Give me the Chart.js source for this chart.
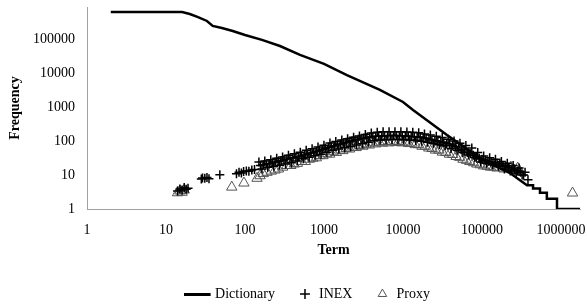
<!DOCTYPE html>
<html>
<head>
<meta charset="utf-8">
<script src="https://cdn.jsdelivr.net/npm/chart.js@4"></script>
<style>
  html, body { margin: 0; padding: 0; background: #fff; }
  #wrap { width: 587px; height: 306px; position: relative; }
</style>
</head>
<body>
<div id="wrap"><canvas id="chart"></canvas></div>
<script>
// Dictionary curve (term rank vs frequency)
const dictTerms = [2, 16, 20, 25, 33, 39, 51, 70, 100, 164, 277, 497, 1000, 1950, 5100,
  10000, 13400, 36000, 77000, 100000, 226000, 371000, 443000, 443000, 542000, 542000,
  662000, 662000, 890000, 890000, 1740000];
const dictFreq = [620000, 620000, 543000, 444000, 338000, 242000, 210000, 172000, 131000,
  94000, 62000, 34000, 18400, 8700, 3200, 1400, 820, 150, 44, 29, 11.4, 5, 5, 4, 4, 3,
  3, 2, 2, 1, 1];

// INEX points [term, frequency]
const inexPoints = [
  [14, 3.4], [15, 3.9], [16, 3.6], [17, 4.3], [18, 3.8], [19, 4.1],
  [28, 7.6], [29, 8.2], [31, 8.0], [33, 8.4], [35, 7.8], [48, 10.2],
  [78, 10.8], [84, 12], [90, 11.5], [96, 12.6], [104, 13.2], [112, 12.8], [122, 14], [132, 14.5],
  [150, 24], [164, 15], [178, 26], [194, 17], [212, 28], [231, 18], [252, 31], [274, 19.5],
  [299, 34], [326, 21], [355, 38], [387, 23], [422, 42], [460, 26], [501, 47], [546, 30],
  [595, 53], [649, 33], [707, 59], [771, 37], [840, 66], [916, 41], [998, 75], [1090, 47],
  [1190, 87], [1300, 53], [1410, 96], [1540, 58], [1680, 106], [1830, 63], [1990, 117],
  [2170, 69], [2370, 128], [2580, 76], [2810, 141], [3070, 83], [3340, 155], [3640, 92],
  [3970, 173], [4330, 102], [4720, 180], [5140, 107], [5600, 186], [6110, 109], [6660, 188],
  [7260, 110], [7910, 188], [8620, 110], [9400, 186], [10200, 108], [11200, 183], [12200, 106],
  [13300, 180], [14500, 104], [15800, 174], [17200, 98], [18700, 160], [20400, 92], [22200, 150],
  [24200, 86], [26400, 138], [28800, 79], [31400, 127], [34200, 72], [37300, 112], [40600, 60],
  [44300, 100], [48300, 53], [52600, 86], [57400, 46], [62500, 74], [68100, 39], [74300, 62],
  [81000, 33], [88300, 46], [96200, 24], [105000, 36], [114000, 22], [125000, 32], [136000, 20],
  [148000, 29], [161000, 18], [176000, 25], [192000, 15], [209000, 22], [228000, 13],
  [248000, 19], [271000, 11.5], [295000, 16], [322000, 10], [351000, 12], [382000, 7.2],
  // middle of the band
  [157, 19], [171, 20], [186, 21], [203, 21.5], [221, 22.5], [241, 24], [263, 25], [286, 26.5],
  [312, 28], [340, 29.5], [371, 31], [404, 32], [441, 34], [480, 35], [523, 37], [570, 39],
  [622, 42], [678, 44.5], [739, 47], [805, 50], [878, 53], [957, 57], [1040, 61], [1140, 65],
  [1240, 69], [1350, 73], [1480, 77], [1610, 81], [1750, 86], [1910, 91], [2080, 96], [2270, 101],
  [2470, 106], [2700, 112], [2940, 117], [3200, 122], [3490, 126], [3800, 131], [4150, 134],
  [4520, 137], [4930, 139], [5370, 141], [5850, 142], [6380, 143], [6960, 144], [7580, 144],
  [8260, 144], [9000, 143], [9810, 142], [10700, 140], [11700, 138], [12700, 136], [13900, 134],
  [15100, 132], [16500, 130], [18000, 124], [19600, 118], [21300, 112], [23200, 107], [25300, 101],
  [27600, 96], [30100, 93], [32800, 89], [35700, 85], [38900, 82], [42400, 75], [46300, 68],
  [50400, 62], [55000, 56], [59900, 51], [65300, 46], [71200, 42], [77600, 38], [84600, 34],
  [92200, 31], [100000, 29], [110000, 27], [119000, 25.5], [130000, 24], [142000, 23],
  [155000, 22], [168000, 21], [184000, 19], [200000, 18], [218000, 16.5], [238000, 15],
  [259000, 14], [283000, 13], [308000, 12], [336000, 10]
];

// Proxy points [term, frequency]
const proxyPoints = [
  [14, 3.0], [15, 3.4], [16, 3.1], [17, 3.6], [68, 4.4], [97, 5.8], [142, 8], [155, 9.5],
  [170, 11], [190, 12], [215, 13], [240, 14], [265, 15], [300, 17], [340, 19], [380, 19],
  [420, 21], [460, 22], [520, 25], [580, 25], [650, 29], [720, 31], [800, 32], [880, 37],
  [970, 37], [1070, 42], [1180, 41], [1300, 48], [1430, 46], [1570, 54], [1730, 52], [1900, 60],
  [2100, 58], [2300, 66], [2550, 64], [2800, 74], [3100, 70], [3400, 80], [3750, 76], [4100, 88],
  [4500, 82], [5000, 92], [5500, 86], [6000, 96], [6600, 88], [7300, 98], [8000, 90], [8800, 96],
  [9700, 88], [10700, 92], [11800, 84], [13000, 86], [14300, 78], [15800, 78], [17400, 70],
  [19200, 70], [21200, 62], [23400, 60], [25800, 54], [28500, 54], [31500, 47], [34800, 46],
  [38500, 41], [42500, 40], [47000, 35], [52000, 33], [57500, 29], [63500, 27], [70000, 25],
  [78000, 23], [86000, 21], [95000, 20], [105000, 18.5], [116000, 18], [128000, 17], [141000, 17],
  [156000, 16], [172000, 20], [190000, 15], [210000, 16], [232000, 17], [256000, 14],
  [283000, 16], [300000, 13], [1400000, 2.95]
];

const xTicks = [1, 10, 100, 1000, 10000, 100000, 1000000];
const yTicks = [1, 10, 100, 1000, 10000, 100000];

const serif = "'Liberation Serif', 'Times New Roman', serif";

// legend marker for the Dictionary line (27px line, some blank space on the right)
const lineMark = document.createElement("canvas");
lineMark.width = 35;
lineMark.height = 3;
const lm = lineMark.getContext("2d");
lm.fillStyle = "#000";
lm.fillRect(0, 0, 27, 3);

// move the legend a little right and down like the original
const legendNudge = {
  id: "legendNudge",
  afterLayout(chart) {
    const lg = chart.legend;
    if (!lg) return;
    lg.left += 19;
    lg.right += 19;
    lg.top += 5;
    lg.bottom += 5;
  },
};

new Chart(document.getElementById("chart"), {
  type: "scatter",
  data: {
    datasets: [
      {
        label: "Dictionary",
        type: "line",
        data: dictTerms.map((t, i) => ({ x: t, y: dictFreq[i] })),
        borderColor: "#000",
        backgroundColor: "#000",
        borderWidth: 2.5,
        pointRadius: 0,
        pointStyle: lineMark,
        tension: 0,
        fill: false,
      },
      {
        label: "INEX",
        data: inexPoints.map(([x, y]) => ({ x, y })),
        pointStyle: "cross",
        pointRadius: 4.5,
        borderColor: "#000",
        backgroundColor: "#000",
        borderWidth: 1.5,
      },
      {
        label: "Proxy",
        data: proxyPoints.map(([x, y]) => ({ x, y })),
        pointStyle: "triangle",
        pointRadius: 6,
        borderColor: "#555",
        backgroundColor: "rgba(255,255,255,0)",
        borderWidth: 1,
      },
    ],
  },
  options: {
    responsive: true,
    maintainAspectRatio: false,
    animation: false,
    layout: { padding: { top: 7, right: 1, left: 0, bottom: 0 } },
    plugins: {
      tooltip: { enabled: false },
      legend: {
        position: "bottom",
        labels: {
          usePointStyle: true,
          boxHeight: 7,
          padding: 23,
          color: "#000",
          font: { family: serif, size: 14 },
        },
      },
    },
    scales: {
      x: {
        type: "logarithmic",
        min: 1,
        max: 1740000,
        // tick marks are not drawn; tickLength only spaces the labels off the axis
        grid: { display: false, drawTicks: true, tickLength: 13 },
        border: { display: true, color: "#a0a0a0", width: 1 },
        afterBuildTicks: (scale) => {
          scale.ticks = xTicks.map((v) => ({ value: v }));
        },
        afterFit: (scale) => {
          scale.height = scale.chart.height - 209 - scale.chart.legend.height;
        },
        ticks: {
          color: "#000",
          padding: 0,
          maxRotation: 0,
          font: { family: serif, size: 14 },
          callback: (v) => String(v),
        },
        title: {
          display: true,
          text: "Term",
          color: "#000",
          padding: { top: 0, bottom: 0 },
          font: { family: serif, size: 14, weight: "bold" },
        },
      },
      y: {
        type: "logarithmic",
        min: 1,
        max: 870000,
        grid: { display: false, drawTicks: false },
        border: { display: true, color: "#a0a0a0", width: 1 },
        afterBuildTicks: (scale) => {
          scale.ticks = yTicks.map((v) => ({ value: v }));
        },
        afterFit: (scale) => {
          scale.width = 87;
          scale.paddingTop = 0;
          scale.paddingBottom = 0;
        },
        ticks: {
          color: "#000",
          padding: 12,
          font: { family: serif, size: 14 },
          callback: (v) => String(v),
        },
        title: {
          display: true,
          text: "Frequency",
          color: "#000",
          padding: { top: 7, bottom: 0 },
          font: { family: serif, size: 14, weight: "bold" },
        },
      },
    },
  },
  plugins: [legendNudge],
});
</script>
</body>
</html>
